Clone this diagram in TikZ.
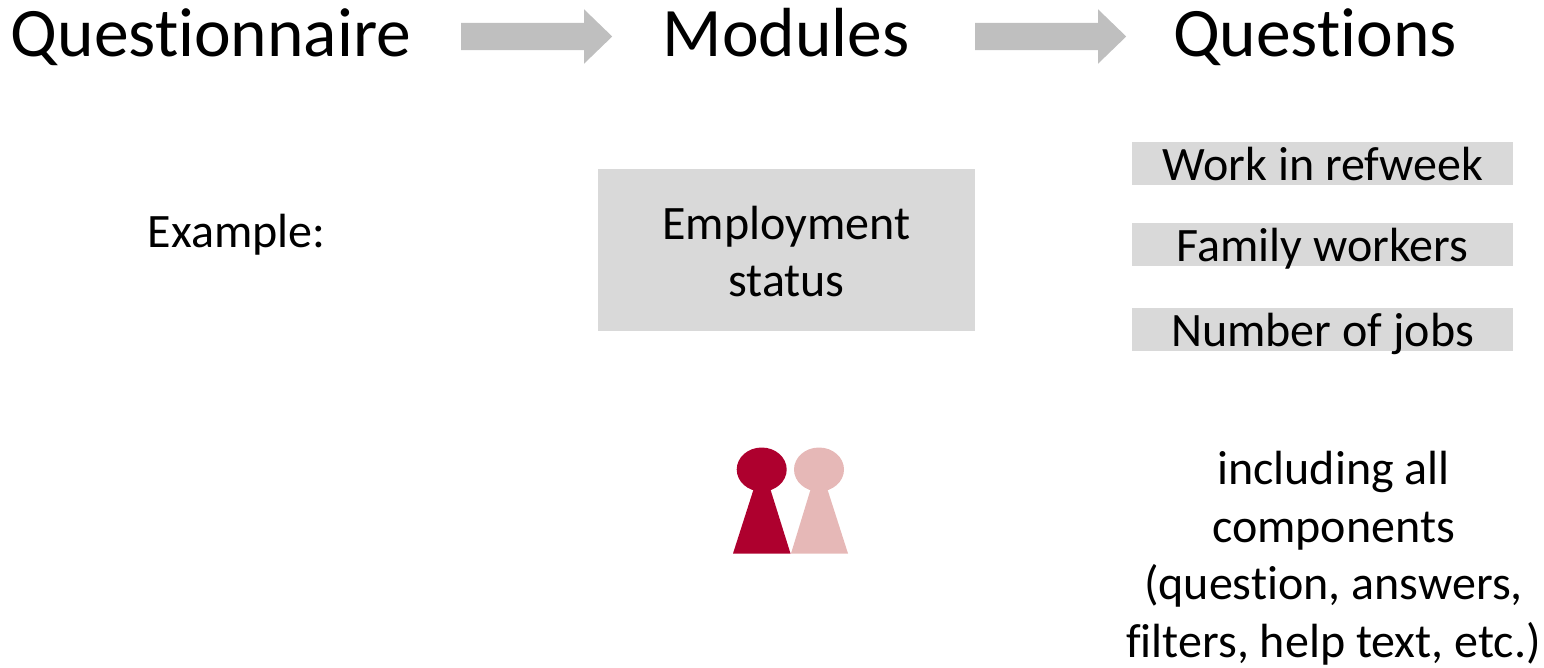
\documentclass[tikz,border=0pt]{standalone}
\usepackage{fontspec}
\setmainfont[Ligatures=NoCommon,Contextuals=NoAlternate]{Carlito}
\usetikzlibrary{shapes.arrows}
\definecolor{boxgrey}{HTML}{D9D9D9}
\definecolor{arrowgrey}{HTML}{BFBFBF}
\definecolor{pawnred}{HTML}{AE002E}
\definecolor{pawnpink}{HTML}{E6B8B7}
\tikzset{
    heading/.style={font=\fontsize{69.5}{80}\selectfont, anchor=base, inner sep=0},
    body/.style={font=\fontsize{48}{57.5}\selectfont, align=center, inner sep=0},
    questionbox/.style={fill=boxgrey, minimum width=381pt, minimum height=43pt, inner sep=0},
    blockarrow/.style={single arrow, fill=arrowgrey, inner sep=13.5pt, minimum width=54pt,
        minimum height=151pt, single arrow head extend=13.5pt, single arrow tip angle=88,
        anchor=west},
}
\begin{document}
\begin{tikzpicture}[x=1pt, y=-1pt]
    % page frame
    \useasboundingbox (0, 0) rectangle (1544, 667);
    % headings
    \node [heading] (questionnaire) at (211, 56.5) {Questionnaire};
    \node [heading] (modules) at (786, 56.5) {Modules};
    \node [heading] (questions) at (1315, 56.5) {Questions};
    % arrows between headings
    \node [blockarrow] (arrowone) at (461, 36.5) {};
    \node [blockarrow] (arrowtwo) at (975, 36.5) {};
    % example row
    \node [body] (example) at (236.5, 235) {Example:};
    \node [fill=boxgrey, minimum width=377pt, minimum height=162pt, inner sep=0] (module) at (786.5, 250) {};
    \node [body] (moduletext) at (786.5, 251.5) {Employment\\status};
    % question boxes
    \node [questionbox] (work) at (1322.5, 163.5) {};
    \node [questionbox] (family) at (1322.5, 244.5) {};
    \node [questionbox] (jobs) at (1322.5, 329.5) {};
    % question labels
    \node [body] (worktext) at (1323, 163.5) {Work in refweek};
    \node [body] (familytext) at (1322.5, 249) {Family workers};
    \node [body] (jobstext) at (1322.5, 334) {Number of jobs};
    % components text
    \node [body] (components) at (1333.5, 558) {including all\\components\\(question, answers,\\filters, help text, etc.)};
    % red pawn
    \fill [pawnred] (761.7, 469.5) ellipse (25 and 22);
    \fill [pawnred] (733, 553.5) -- (754, 488) -- (770, 488) -- (790.5, 553.5) -- cycle;
    % pink pawn
    \fill [pawnpink] (819, 469.5) ellipse (25 and 22);
    \fill [pawnpink] (791, 553.5) -- (811, 488) -- (827, 488) -- (848, 553.5) -- cycle;
\end{tikzpicture}
\end{document}
